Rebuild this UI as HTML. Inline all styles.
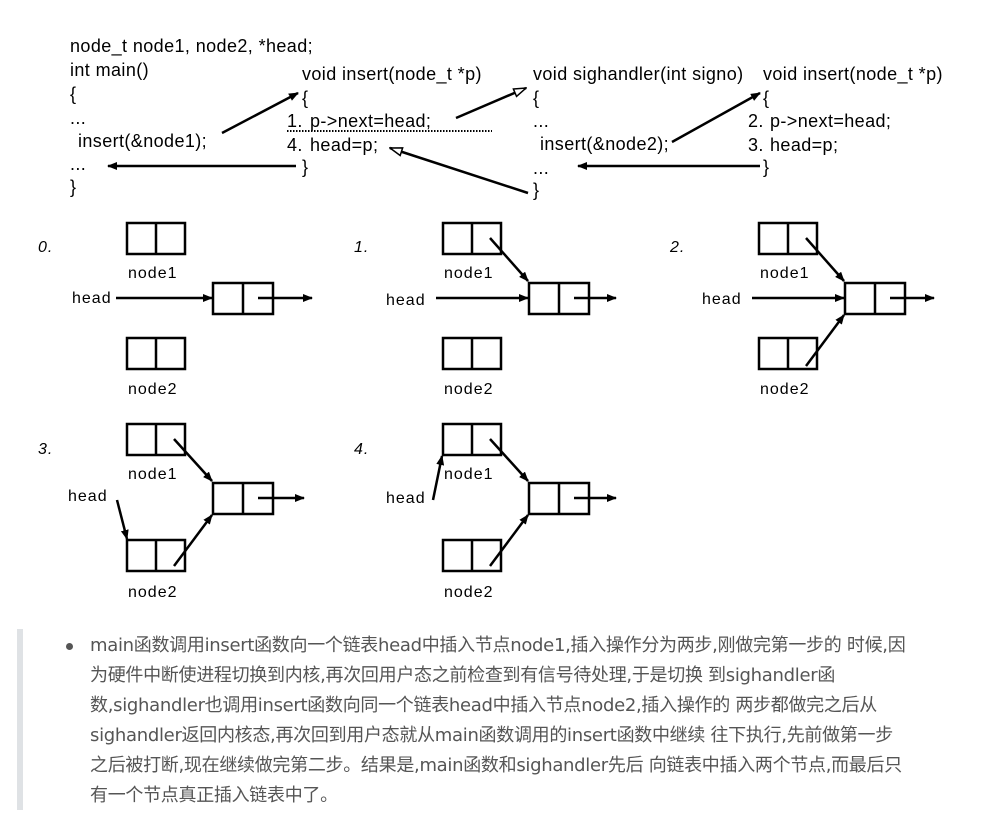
<!DOCTYPE html>
<html><head><meta charset="utf-8"><style>
body{margin:0;background:#fff;width:986px;height:814px;overflow:hidden;position:relative;font-family:"Liberation Sans","Noto Sans CJK SC",sans-serif}
svg{position:absolute;left:0;top:0}
.bar{position:absolute;left:17px;top:629px;width:6px;height:181px;background:#dfe2e5}
.dot{position:absolute;left:66px;top:643px;width:7px;height:7px;border-radius:50%;background:#555}
.t{position:absolute;left:90px;top:631px;font-family:"DejaVu Sans","Noto Sans CJK SC",sans-serif;font-size:18px;line-height:30px;color:#555;white-space:nowrap;letter-spacing:-0.3px}
</style></head><body>
<svg width="986" height="620" viewBox="0 0 986 620" font-family="Liberation Sans, sans-serif">
<defs>
<marker id="a" markerWidth="10" markerHeight="8" refX="9" refY="4" orient="auto" markerUnits="userSpaceOnUse"><path d="M0,0 L10,4 L0,8 z" fill="#000"/></marker>
<marker id="o" markerWidth="14" markerHeight="10" refX="13" refY="5" orient="auto" markerUnits="userSpaceOnUse"><path d="M1,1 L13,5 L1,9 z" fill="#fff" stroke="#000" stroke-width="1.5"/></marker>
</defs>
<g font-size="18" fill="#000" letter-spacing="0.4">
<text x="70" y="52">node_t node1, node2, *head;</text>
<text x="70" y="76">int main()</text>
<text x="70" y="100">{</text>
<text x="70" y="124">...</text>
<text x="78" y="147">insert(&amp;node1);</text>
<text x="70" y="170">...</text>
<text x="70" y="193">}</text>
<text x="302" y="80">void insert(node_t *p)</text>
<text x="302" y="104">{</text>
<text x="287" y="127">1.</text><text x="310" y="127">p-&gt;next=head;</text>
<text x="287" y="151">4.</text><text x="310" y="151">head=p;</text>
<text x="302" y="173">}</text>
<text x="533" y="80">void sighandler(int signo)</text>
<text x="533" y="104">{</text>
<text x="533" y="127">...</text>
<text x="540" y="150">insert(&amp;node2);</text>
<text x="533" y="174">...</text>
<text x="533" y="196">}</text>
<text x="763" y="80">void insert(node_t *p)</text>
<text x="763" y="104">{</text>
<text x="748" y="127">2.</text><text x="770" y="127">p-&gt;next=head;</text>
<text x="748" y="151">3.</text><text x="770" y="151">head=p;</text>
<text x="763" y="173">}</text>
</g>
<g stroke="#000" stroke-width="2.5" fill="none">
<line x1="222" y1="133" x2="298" y2="93" marker-end="url(#a)"/>
<line x1="296" y1="166" x2="108" y2="166" marker-end="url(#a)"/>
<line x1="456" y1="118" x2="526" y2="88" marker-end="url(#o)"/>
<line x1="528" y1="193" x2="390" y2="148" marker-end="url(#o)"/>
<line x1="672" y1="142" x2="760" y2="93" marker-end="url(#a)"/>
<line x1="760" y1="166" x2="578" y2="166" marker-end="url(#a)"/>
</g>
<line x1="287" y1="131" x2="492" y2="131" stroke="#000" stroke-width="2" stroke-dasharray="1.5,1.5"/>

<g font-size="16" fill="#000" letter-spacing="1">
<text x="38" y="252" font-style="italic">0.</text>
<text x="128" y="278">node1</text><text x="128" y="394">node2</text>
<text x="72" y="303">head</text>
<text x="354" y="252" font-style="italic">1.</text>
<text x="444" y="278">node1</text><text x="444" y="394">node2</text>
<text x="386" y="305">head</text>
<text x="670" y="252" font-style="italic">2.</text>
<text x="760" y="278">node1</text><text x="760" y="394">node2</text>
<text x="702" y="304">head</text>
<text x="38" y="454" font-style="italic">3.</text>
<text x="128" y="479">node1</text><text x="128" y="597">node2</text>
<text x="68" y="501">head</text>
<text x="354" y="454" font-style="italic">4.</text>
<text x="444" y="479">node1</text><text x="444" y="597">node2</text>
<text x="386" y="503">head</text>
</g>
<g stroke="#000" stroke-width="2.5" fill="none">
<path d="M127 223h58v31h-58z M156 223v31"/>
<path d="M127 338h58v31h-58z M156 338v31"/>
<path d="M213 283h60v31h-60z M243 283v31"/>
<path d="M443 223h58v31h-58z M472 223v31"/>
<path d="M443 338h58v31h-58z M472 338v31"/>
<path d="M529 283h60v31h-60z M559 283v31"/>
<path d="M759 223h58v31h-58z M788 223v31"/>
<path d="M759 338h58v31h-58z M788 338v31"/>
<path d="M845 283h60v31h-60z M875 283v31"/>
<path d="M127 424h58v31h-58z M156 424v31"/>
<path d="M127 540h58v31h-58z M156 540v31"/>
<path d="M213 483h60v31h-60z M243 483v31"/>
<path d="M443 424h58v31h-58z M472 424v31"/>
<path d="M443 540h58v31h-58z M472 540v31"/>
<path d="M529 483h60v31h-60z M559 483v31"/>
<line x1="116" y1="298" x2="212" y2="298" marker-end="url(#a)"/>
<line x1="258" y1="298" x2="312" y2="298" marker-end="url(#a)"/>
<line x1="436" y1="298" x2="528" y2="298" marker-end="url(#a)"/>
<line x1="574" y1="298" x2="616" y2="298" marker-end="url(#a)"/>
<line x1="490" y1="238" x2="528" y2="281" marker-end="url(#a)"/>
<line x1="752" y1="298" x2="844" y2="298" marker-end="url(#a)"/>
<line x1="890" y1="298" x2="934" y2="298" marker-end="url(#a)"/>
<line x1="806" y1="238" x2="844" y2="281" marker-end="url(#a)"/>
<line x1="806" y1="366" x2="844" y2="315" marker-end="url(#a)"/>
<line x1="258" y1="498" x2="304" y2="498" marker-end="url(#a)"/>
<line x1="174" y1="439" x2="212" y2="481" marker-end="url(#a)"/>
<line x1="174" y1="566" x2="212" y2="515" marker-end="url(#a)"/>
<line x1="117" y1="500" x2="127" y2="539" marker-end="url(#a)"/>
<line x1="574" y1="498" x2="616" y2="498" marker-end="url(#a)"/>
<line x1="490" y1="439" x2="528" y2="481" marker-end="url(#a)"/>
<line x1="490" y1="566" x2="528" y2="515" marker-end="url(#a)"/>
<line x1="433" y1="500" x2="442" y2="456" marker-end="url(#a)"/>
</g>
</svg>
<div class="bar"></div><div class="dot"></div>
<div class="t">main函数调用insert函数向一个链表head中插入节点node1,插入操作分为两步,刚做完第一步的 时候,因<br>为硬件中断使进程切换到内核,再次回用户态之前检查到有信号待处理,于是切换 到sighandler函<br>数,sighandler也调用insert函数向同一个链表head中插入节点node2,插入操作的 两步都做完之后从<br>sighandler返回内核态,再次回到用户态就从main函数调用的insert函数中继续 往下执行,先前做第一步<br>之后被打断,现在继续做完第二步。结果是,main函数和sighandler先后 向链表中插入两个节点,而最后只<br>有一个节点真正插入链表中了。</div>
</body></html>
